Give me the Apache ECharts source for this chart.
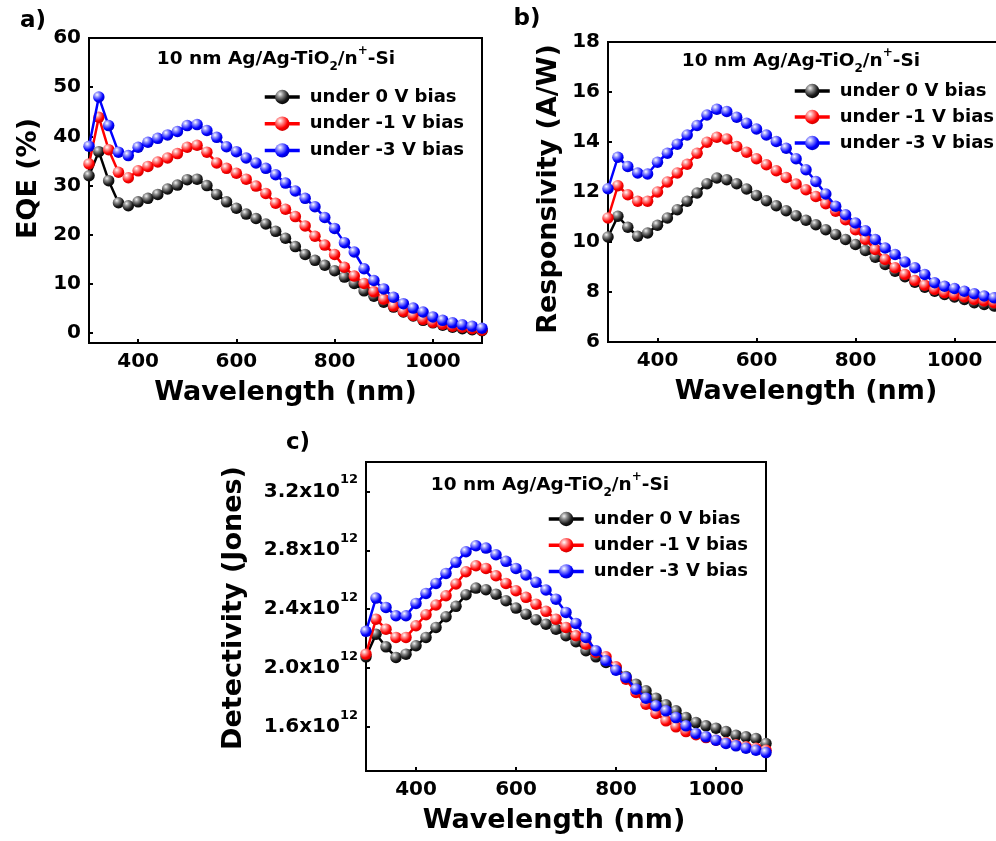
<!DOCTYPE html>
<html>
<head>
<meta charset="utf-8">
<script src="https://cdn.jsdelivr.net/npm/echarts@6/dist/echarts.min.js"></script>
<style>html,body{margin:0;padding:0;background:#fff}#c{width:996px;height:841px}</style>
</head>
<body>
<div id="c"></div>
<script>
const wavelength = [300,320,340,360,380,400,420,440,460,480,500,520,540,560,580,600,620,640,660,680,700,720,740,760,780,800,820,840,860,880,900,920,940,960,980,1000,1020,1040,1060,1080,1100];
const seriesNames = ['under 0 V bias', 'under -1 V bias', 'under -3 V bias'];
const xTicks = [400, 600, 800, 1000];
const eqeTicks = [0, 10, 20, 30, 40, 50, 60];
const respTicks = [6, 8, 10, 12, 14, 16, 18];
const detTicks = [1.6, 2.0, 2.4, 2.8, 3.2]; // x10^12 Jones

const eqe0 = [32.0,36.9,31.0,26.5,25.9,26.7,27.4,28.2,29.3,30.1,31.2,31.3,30.0,28.2,26.7,25.4,24.2,23.3,22.2,20.7,19.3,17.6,16.0,14.8,13.8,12.7,11.4,10.1,8.6,7.5,6.3,5.3,4.3,3.5,2.6,2.1,1.6,1.2,0.9,0.7,0.5];
const eqe1 = [34.4,43.9,37.3,32.7,31.6,33.0,33.9,34.8,35.6,36.5,37.8,38.2,36.8,34.6,33.5,32.5,31.3,29.9,28.4,26.4,25.2,23.7,21.8,19.7,17.9,16.0,13.4,11.6,10.1,8.4,6.9,5.5,4.4,3.6,2.8,2.2,1.8,1.4,1.2,0.9,0.6];
const eqe3 = [38.0,48.0,42.2,36.8,36.1,37.8,38.8,39.6,40.3,41.0,42.2,42.4,41.2,39.8,37.9,36.9,35.6,34.6,33.5,32.2,30.5,28.9,27.4,25.7,23.5,21.3,18.4,16.5,13.1,10.7,9.0,7.3,6.0,5.1,4.3,3.3,2.6,2.1,1.7,1.4,1.0];

const resp0 = [10.2,11.03,10.59,10.23,10.36,10.67,10.96,11.29,11.63,11.96,12.33,12.56,12.49,12.33,12.12,11.86,11.65,11.45,11.25,11.05,10.87,10.69,10.49,10.30,10.10,9.90,9.66,9.39,9.10,8.83,8.61,8.39,8.19,8.03,7.90,7.80,7.70,7.57,7.50,7.44,7.40];
const resp1 = [10.96,12.25,11.89,11.63,11.63,12.0,12.4,12.76,13.11,13.55,13.99,14.19,14.12,13.82,13.59,13.33,13.09,12.85,12.58,12.32,12.09,11.82,11.53,11.23,10.89,10.49,10.10,9.70,9.30,8.97,8.70,8.46,8.27,8.10,7.97,7.88,7.80,7.70,7.64,7.57,7.52];
const resp3 = [12.13,13.39,13.02,12.76,12.72,13.19,13.55,13.91,14.28,14.66,15.08,15.31,15.22,14.99,14.75,14.52,14.28,14.02,13.75,13.33,12.89,12.42,11.92,11.43,11.09,10.76,10.45,10.10,9.76,9.50,9.20,8.97,8.70,8.37,8.23,8.14,8.03,7.93,7.84,7.77,7.72];

// detectivity in units of 10^12 Jones
const det0 = [2.076,2.230,2.144,2.072,2.094,2.151,2.208,2.276,2.348,2.419,2.498,2.543,2.532,2.502,2.457,2.407,2.366,2.328,2.298,2.264,2.219,2.178,2.117,2.076,2.038,2.004,1.942,1.890,1.845,1.795,1.750,1.709,1.663,1.629,1.607,1.591,1.568,1.543,1.532,1.521,1.487];
const det1 = [2.094,2.332,2.264,2.208,2.208,2.287,2.362,2.428,2.491,2.571,2.654,2.695,2.677,2.627,2.575,2.525,2.480,2.434,2.385,2.332,2.276,2.219,2.162,2.106,2.076,2.008,1.924,1.834,1.754,1.691,1.641,1.600,1.568,1.546,1.527,1.509,1.493,1.478,1.464,1.455,1.441];
const det3 = [2.249,2.475,2.412,2.355,2.355,2.439,2.507,2.575,2.643,2.718,2.790,2.831,2.815,2.770,2.725,2.677,2.632,2.582,2.530,2.468,2.378,2.303,2.208,2.117,2.049,1.985,1.936,1.856,1.795,1.743,1.709,1.663,1.607,1.555,1.532,1.509,1.487,1.471,1.455,1.441,1.425];

const FONT = 'DejaVu Sans';
const lineColors = ['#000000', '#ff0000', '#0000ff'];
const markerFills = [
  {type:'radial', x:0.35, y:0.3, r:0.75, colorStops:[{offset:0,color:'#f4f4f4'},{offset:0.3,color:'#8a8a8a'},{offset:0.7,color:'#1c1c1c'},{offset:1,color:'#000'}]},
  {type:'radial', x:0.35, y:0.3, r:0.75, colorStops:[{offset:0,color:'#ffffff'},{offset:0.3,color:'#ff8a8a'},{offset:0.7,color:'#ff0000'},{offset:1,color:'#c80000'}]},
  {type:'radial', x:0.35, y:0.3, r:0.75, colorStops:[{offset:0,color:'#ffffff'},{offset:0.3,color:'#8a8aff'},{offset:0.7,color:'#0000ff'},{offset:1,color:'#0000c0'}]}
];

const chart = echarts.init(document.getElementById('c'), null, {renderer:'canvas', width:996, height:841});

function grid(left, top, right, bottom) {
  return {left, top, right, bottom, show:true, borderColor:'#000', borderWidth:2, backgroundColor:'rgba(0,0,0,0)', containLabel:false, outerBoundsMode:'none'};
}
function xAxis(gi, namePad) {
  return {
    type:'value', gridIndex:gi, min:300, max:1100,
    axisLine:{show:true, onZero:false, lineStyle:{color:'#000', width:2}},
    axisTick:{show:true, inside:true, length:4, customValues:xTicks, lineStyle:{color:'#000', width:2}},
    axisLabel:{show:true, customValues:xTicks, formatter: v => String(v), margin:9, fontFamily:FONT, fontWeight:'bold', fontSize:20, color:'#000'},
    splitLine:{show:false},
    name:'Wavelength (nm)', nameLocation:'middle', nameGap:36, nameMoveOverlap:false,
    nameTextStyle:{fontFamily:FONT, fontWeight:'bold', fontSize:27, color:'#000', padding:namePad}
  };
}
function yAxis(gi, min, max, ticks, name, nameGap, namePad, labelOpt) {
  return {
    type:'value', gridIndex:gi, min, max,
    axisLine:{show:true, onZero:false, lineStyle:{color:'#000', width:2}},
    axisTick:{show:true, inside:true, length:4, customValues:ticks, lineStyle:{color:'#000', width:2}},
    axisLabel:Object.assign({show:true, customValues:ticks, formatter: v => String(v), margin:8, fontFamily:FONT, fontWeight:'bold', fontSize:20, color:'#000'}, labelOpt || {}),
    splitLine:{show:false},
    name, nameLocation:'middle', nameGap, nameRotate:90, nameMoveOverlap:false,
    nameTextStyle:{fontFamily:FONT, fontWeight:'bold', fontSize:27, color:'#000', padding:namePad}
  };
}
function mkSeries(gi, arr, k) {
  return {
    type:'line', name:seriesNames[k], xAxisIndex:gi, yAxisIndex:gi,
    data: wavelength.map((w, i) => [w, arr[i]]),
    symbol:'circle', symbolSize:11.5, showSymbol:true,
    lineStyle:{color:lineColors[k], width:2.5},
    itemStyle:{color:markerFills[k], borderWidth:0},
    emphasis:{disabled:true}, animation:false, z:2+k
  };
}
function legend(left, top, gap) {
  return {
    data:seriesNames, orient:'vertical', left, top, padding:0, itemGap:gap,
    itemWidth:35, itemHeight:18, selectedMode:false,
    lineStyle:{width:3.5},
    textStyle:{fontFamily:FONT, fontWeight:'bold', fontSize:18, color:'#000', lineHeight:18, padding:[0,0,0,5]}
  };
}
const annRich = {
  n:{fontFamily:FONT, fontWeight:'bold', fontSize:18.5, lineHeight:28, fill:'#000'},
  sub:{fontFamily:FONT, fontWeight:'bold', fontSize:12, lineHeight:12, verticalAlign:'bottom', fill:'#000'},
  sup:{fontFamily:FONT, fontWeight:'bold', fontSize:12, lineHeight:12, verticalAlign:'top', fill:'#000'}
};
function annotation(x, y) {
  return {type:'text', x, y, silent:true, style:{
    text:'{n|10 nm Ag/Ag-TiO}{sub|2}{n|/n}{sup|+}{n|-Si}', rich:annRich,
    align:'center', verticalAlign:'middle', fill:'#000'}};
}
function panelLabel(t, x, y) {
  return {type:'text', x, y, silent:true, style:{text:t, font:'bold 23px "DejaVu Sans"', fill:'#000', align:'center', verticalAlign:'middle'}};
}

const option = {
  animation:false,
  backgroundColor:'#fff',
  grid:[grid(89, 38, 514, 498), grid(608, 42, -8, 499), grid(366, 462, 230, 70)],
  xAxis:[xAxis(0, [0,0,0,0]), xAxis(1, [0,0,0,0]), xAxis(2, [0,24,0,0])],
  yAxis:[
    yAxis(0, -2, 60, eqeTicks, 'EQE (%)', 47, [0,0,0,24]),
    yAxis(1, 6, 18, respTicks, 'Responsivity (A/W)', 46, [0,0,0,6]),
    yAxis(2, 1.3, 3.4, detTicks, 'Detectivity (Jones)', 119, [0,0,0,17], {
      formatter: v => '{a|' + v.toFixed(1) + 'x10}{b|12}',
      rich:{
        a:{fontFamily:FONT, fontWeight:'bold', fontSize:20, lineHeight:36, color:'#000'},
        b:{fontFamily:FONT, fontWeight:'bold', fontSize:13, lineHeight:12, verticalAlign:'top', color:'#000'}
      }
    })
  ],
  legend:[legend(263, 88, 8.7), legend(793, 82, 8), legend(547, 510, 8.2)],
  series:[
    mkSeries(0, eqe0, 0), mkSeries(0, eqe1, 1), mkSeries(0, eqe3, 2),
    mkSeries(1, resp0, 0), mkSeries(1, resp1, 1), mkSeries(1, resp3, 2),
    mkSeries(2, det0, 0), mkSeries(2, det1, 1), mkSeries(2, det3, 2)
  ],
  graphic:[
    annotation(276, 59), annotation(801, 61), annotation(550, 485),
    panelLabel('a)', 33, 21), panelLabel('b)', 527, 19), panelLabel('c)', 298, 443)
  ]
};
chart.setOption(option);
</script>
</body>
</html>
